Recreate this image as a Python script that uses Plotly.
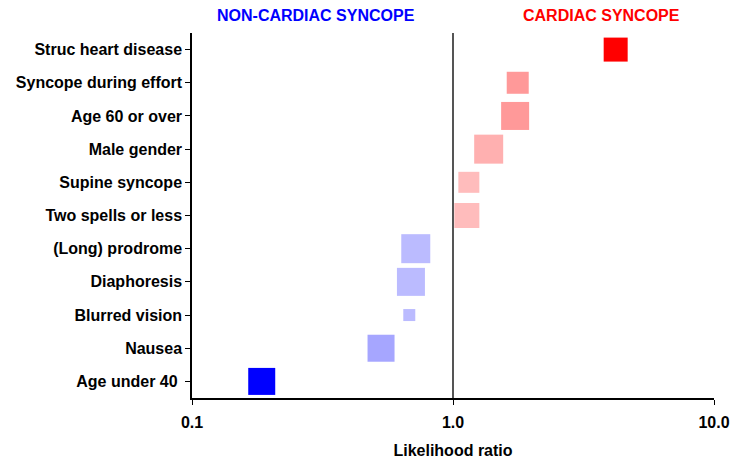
import plotly.graph_objects as go

# ---- data ----
factors = ["Struc heart disease", "Syncope during effort", "Age 60 or over",
           "Male gender", "Supine syncope", "Two spells or less",
           "(Long) prodrome", "Diaphoresis", "Blurred vision", "Nausea",
           "Age under 40 "]
likelihood_ratio = [4.2, 1.77, 1.73, 1.37, 1.15, 1.13, 0.72, 0.69, 0.68, 0.53, 0.185]
weight = [24, 22, 28, 29, 21, 25, 29, 28, 12, 27, 27]
x_tick_vals = [0.1, 1.0, 10.0]
x_tick_text = ["0.1", "1.0", "10.0"]

# ---- style ----
colors = ["#FF0000", "#FF9999", "#FF9999", "#FFB0B0", "#FFBCBC", "#FFBCBC",
          "#BBBBFF", "#BBBBFF", "#BBBBFF", "#A6A6FF", "#0000FF"]
FONT = "Liberation Sans, Arial, sans-serif"
W, H = 730, 459
L, R, T, B = 192, 16, 33, 61
PW = W - L - R

fig = go.Figure()
fig.add_trace(go.Scatter(
    x=likelihood_ratio, y=factors, mode="markers",
    marker=dict(symbol="square", size=weight, color=colors, opacity=1,
                line=dict(width=0)),
    hoverinfo="x+y", showlegend=False,
))

fig.add_shape(type="line", xref="x", yref="paper", x0=1, x1=1, y0=0, y1=1,
              line=dict(color="#555555", width=2))

fig.add_annotation(text="NON-CARDIAC SYNCOPE", xref="paper", yref="paper",
                   x=(316 - L) / PW, xanchor="center", y=1, yshift=18,
                   yanchor="middle", showarrow=False,
                   font=dict(family=FONT, size=16, color="#0000FF", weight="bold"))
fig.add_annotation(text="CARDIAC SYNCOPE", xref="paper", yref="paper",
                   x=(601 - L) / PW, xanchor="center", y=1, yshift=18,
                   yanchor="middle", showarrow=False,
                   font=dict(family=FONT, size=16, color="#FF0000", weight="bold"))

fig.update_layout(
    width=W, height=H,
    margin=dict(l=L, r=R, t=T, b=B),
    paper_bgcolor="white", plot_bgcolor="white",
    font=dict(family=FONT, size=16, color="black", weight="bold"),
    xaxis=dict(type="log", range=[-1, 1], tickvals=x_tick_vals, ticktext=x_tick_text,
               automargin=False, ticklabelstandoff=4,
               showgrid=False, zeroline=False, showline=True, linecolor="black",
               linewidth=1.5, ticks="outside", ticklen=5, tickcolor="black",
               tickfont=dict(family=FONT, size=16, color="black", weight="bold"),
               title=dict(text="Likelihood ratio", standoff=17,
                          font=dict(family=FONT, size=16, color="black", weight="bold"))),
    yaxis=dict(type="category", categoryorder="array", categoryarray=factors,
               automargin=False,
               range=[10.5, -0.5], showgrid=False, zeroline=False, showline=True,
               linecolor="black", linewidth=1.5, ticks="outside", ticklen=5,
               tickcolor="black",
               tickfont=dict(family=FONT, size=16, color="black", weight="bold")),
)

fig.write_html("out.html", config={"displayModeBar": False},
               post_script="document.body.style.margin='0';"
                           "document.body.style.overflow='hidden';")
